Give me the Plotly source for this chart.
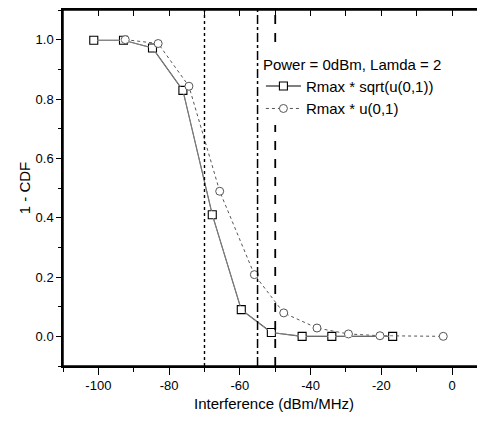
import plotly.graph_objects as go

# ---- data ----
sq_x = [-101.3, -92.9, -84.7, -76.1, -67.8, -59.6, -51.1, -42.4, -34.0, -16.8]
sq_y = [0.998, 0.998, 0.972, 0.829, 0.41, 0.09, 0.013, 0.0, 0.0, 0.0]
ci_x = [-92.4, -83.1, -74.4, -65.7, -55.9, -47.6, -38.2, -29.3, -20.4, -2.5]
ci_y = [1.0, 0.987, 0.843, 0.489, 0.208, 0.079, 0.028, 0.008, 0.002, 0.0]
sq_name = "Rmax * sqrt(u(0,1))"
ci_name = "Rmax * u(0,1)"
legend_title = "Power = 0dBm, Lamda = 2"

vline_x = [-70, -55, -50]
vline_dash = ["dot", "dashdot", "dash"]
vline_width = [1.4, 1.5, 1.8]

x_tick_vals = [-100, -80, -60, -40, -20, 0]
x_tick_text = ["-100", "-80", "-60", "-40", "-20", "0"]
y_tick_vals = [0.0, 0.2, 0.4, 0.6, 0.8, 1.0]
y_tick_text = ["0.0", "0.2", "0.4", "0.6", "0.8", "1.0"]

x_range = [-110, 9.3]
y_range = [-0.1, 1.1]

FONT = "Liberation Sans, Arial, sans-serif"

fig = go.Figure()
# white helper copy on the overlaying top/right axes (frame + inward ticks)
fig.add_trace(go.Scatter(x=sq_x, y=sq_y, xaxis="x2", yaxis="y2", mode="lines",
                         line=dict(color="white", width=0.5),
                         showlegend=False, hoverinfo="skip"))
fig.add_trace(go.Scatter(
    x=sq_x, y=sq_y, name=sq_name, mode="lines+markers",
    line=dict(color="black", width=1.1),
    marker=dict(symbol="square", size=8, color="white",
                line=dict(color="black", width=1.1)),
))
fig.add_trace(go.Scatter(
    x=ci_x, y=ci_y, name=ci_name, mode="lines+markers",
    line=dict(color="#555555", width=1, dash="dot"),
    marker=dict(symbol="circle", size=8, color="white",
                line=dict(color="#555555", width=1)),
))

for vx, vd, vw in zip(vline_x, vline_dash, vline_width):
    fig.add_vline(x=vx, line=dict(color="black", dash=vd, width=vw))

# plot frame (top/right border)
fig.add_shape(type="rect", xref="paper", yref="paper", x0=0, x1=1, y0=0, y1=1,
              line=dict(color="black", width=1.5), layer="above")

axis_common = dict(showgrid=False, zeroline=False, showline=True,
                   linecolor="black", linewidth=1.5)

# page has an 8px body margin: figure is sized/placed to compensate
fig.update_layout(
    width=477, height=415,
    margin=dict(l=55, r=0, t=2, b=57),
    paper_bgcolor="white", plot_bgcolor="white",
    font=dict(family=FONT, color="black"),
    xaxis=dict(**axis_common, automargin=False, range=x_range,
               tickvals=x_tick_vals, ticktext=x_tick_text, ticks="outside",
               ticklen=7, tickwidth=1.2, tickcolor="black",
               minor=dict(dtick=10, tick0=0, ticks="outside", ticklen=4,
                          tickcolor="black", tickwidth=1),
               tickfont=dict(size=13),
               title=dict(text="Interference (dBm/MHz)", font=dict(size=15),
                          standoff=6)),
    yaxis=dict(**axis_common, automargin=False, range=y_range,
               tickvals=y_tick_vals, ticktext=y_tick_text, ticks="outside",
               ticklen=5, tickwidth=1.2, tickcolor="black",
               minor=dict(dtick=0.1, tick0=0, ticks="outside", ticklen=3,
                          tickcolor="black", tickwidth=1),
               tickfont=dict(size=13),
               title=dict(text="1 - CDF", font=dict(size=15), standoff=1)),
    xaxis2=dict(**axis_common, side="top", anchor="y2", overlaying="x",
                automargin=False, range=x_range, showticklabels=False,
                ticks="inside", ticklen=6, tickwidth=1.2, tickcolor="black",
                dtick=10, tick0=0),
    yaxis2=dict(**axis_common, side="right", anchor="x2", overlaying="y",
                automargin=False, range=y_range, showticklabels=False,
                ticks="inside", ticklen=5, tickwidth=1.2, tickcolor="black",
                dtick=0.1, tick0=0),
    legend=dict(x=0.469, y=0.887, xanchor="left", yanchor="top",
                bgcolor="white", borderwidth=0, itemwidth=35,
                font=dict(size=15, family=FONT),
                title=dict(text=legend_title, font=dict(size=15, family=FONT))),
    showlegend=True,
)

fig.write_html("out.html")
